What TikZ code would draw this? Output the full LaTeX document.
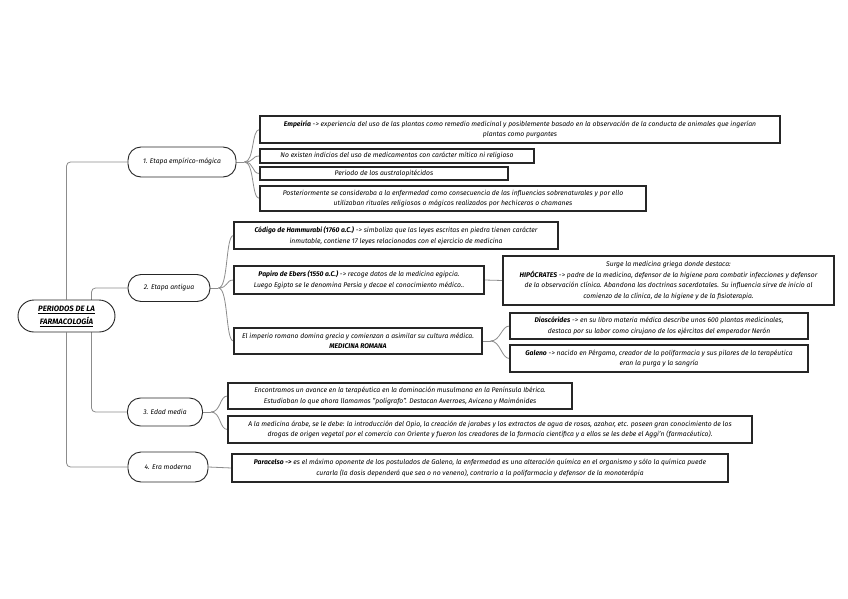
\documentclass[tikz,border=0pt]{standalone}
\usepackage{fontspec}
\setmainfont{Fira Sans}
\usetikzlibrary{backgrounds}
\tikzset{
  txt/.style={font=\fontsize{6.8}{10.6}\selectfont\itshape, align=center, inner sep=0pt},
  leaf/.style={txt, draw=black!85, line width=1.1pt, fill=white, rectangle},
  branch/.style={txt, draw=black!85, line width=0.9pt, fill=white, rounded corners=13pt},
  rootbox/.style={font=\fontsize{7.8}{13}\selectfont\bfseries\itshape, align=center, inner sep=0pt, draw=black!85, line width=0.9pt, fill=white, rounded corners=16pt},
  conn/.style={draw=black!45, line width=0.8pt},
}
\newcommand{\bx}[1]{\textbf{#1}}
\newcommand{\ar}{-\kern0.2pt>}
\begin{document}
\begin{tikzpicture}[x=1pt,y=-1pt]
\useasboundingbox (0,0) rectangle (848,599);
% root and branches
\node[rootbox, minimum width=97pt, minimum height=32pt] (root) at (66.5,316) {\underline{PERIODOS DE LA}\\\underline{FARMACOLOGÍA}};
\node[branch, minimum width=108pt, minimum height=30pt] (b1) at (182,162) {1. Etapa empírico-mágica};
\node[branch, minimum width=82pt, minimum height=27pt] (b2) at (169,288) {2. Etapa antigua};
\node[branch, minimum width=75pt, minimum height=28pt] (b3) at (165,412) {3. Edad media};
\node[branch, minimum width=80pt, minimum height=30pt] (b4) at (168,467) {4. Era moderna};
% leaves
\node[leaf, minimum width=520pt, minimum height=27pt] (e1) at (520,129.5) {\bx{Empeiría} \ar{} experiencia del uso de las plantas como remedio medicinal y posiblemente basado en la observación de la conducta de animales que ingerían\\plantas como purgantes};
\node[leaf, minimum width=274pt, minimum height=14pt] (e2) at (397,156) {No existen indicios del uso de medicamentos con carácter mítico ni religioso};
\node[leaf, minimum width=248pt, minimum height=13pt] (e3) at (384,173.5) {Periodo de los australopitécidos};
\node[leaf, minimum width=386pt, minimum height=25pt] (e4) at (453,198.5) {Posteriormente se consideraba a la enfermedad como consecuencia de las influencias sobrenaturales y por ello\\utilizaban rituales religiosos o mágicos realizados por hechiceros o chamanes};
\node[leaf, minimum width=324pt, minimum height=27pt] (a1) at (396,235.5) {\bx{Código de Hammurabi (1760 a.C.)} \ar{} simboliza que las leyes escritas en piedra tienen carácter\\inmutable, contiene 17 leyes relacionadas con el ejercicio de medicina};
\node[leaf, minimum width=250pt, minimum height=28pt] (a2) at (359,280) {\bx{Papiro de Ebers (1550 a.C.)} \ar{} recoge datos de la medicina egipcia.\\Luego Egipto se le denomina Persia y decae el conocimiento médico..};
\node[leaf, minimum width=331pt, minimum height=49pt] (a3) at (668.5,280.5) {Surge la medicina griega donde destaca:\\\bx{HIPÓCRATES} \ar{} padre de la medicina, defensor de la higiene para combatir infecciones y defensor\\de la observación clínica. Abandona las doctrinas sacerdotales. Su influencia sirve de inicio al\\comienzo de la clínica, de la higiene y de la fisioterapia.};
\node[leaf, minimum width=248pt, minimum height=26pt] (a4) at (358,341) {El imperio romano domina grecia y comienzan a asimilar su cultura médica.\\\bx{MEDICINA ROMANA}};
\node[leaf, minimum width=298pt, minimum height=26pt] (a5) at (659,326) {\bx{Dioscórides} \ar{} en su libro materia médica describe unos 600 plantas medicinales,\\destaca por su labor como cirujano de los ejércitos del emperador Nerón};
\node[leaf, minimum width=298pt, minimum height=27pt] (a6) at (659,358.5) {\bx{Galeno} \ar{} nacido en Pérgamo, creador de la polifarmacia y sus pilares de la terapéutica\\eran la purga y la sangría};
\node[leaf, minimum width=344pt, minimum height=26pt] (m1) at (400,396) {Encontramos un avance en la terapéutica en la dominación musulmana en la Península Ibérica.\\Estudiaban lo que ahora llamamos "polígrafo". Destacan Averroes, Avicena y Maimónides};
\node[leaf, minimum width=524pt, minimum height=27pt] (m2) at (490,429.5) {A la medicina árabe, se le debe: la introducción del Opio, la creación de jarabes y los extractos de agua de rosas, azahar, etc. poseen gran conocimiento de los\\drogas de origen vegetal por el comercio con Oriente y fueron los creadores de la farmacia científica y a ellos se les debe el Aggi'n (farmacéutico).};
\node[leaf, minimum width=496pt, minimum height=28pt] (p1) at (480,468) {\bx{Paracelso \ar} es el máximo oponente de los postulados de Galeno, la enfermedad es una alteración química en el organismo y sólo la química puede\\curarla (la dosis dependerá que sea o no veneno), contrario a la polifarmacia y defensor de la monoterápia};
% connectors
\begin{scope}[on background layer]
\fill[white] (0,0) rectangle (848,599);
\draw[conn, rounded corners=4pt] (root.north) |- (b1.west);
\draw[conn, rounded corners=4pt] (root.south) |- (b4.west);
\coordinate (rj) at ([xshift=25pt]root.center);
\draw[conn, rounded corners=4pt] (rj) |- (b2.west);
\draw[conn, rounded corners=4pt] (rj) |- (b3.west);
\coordinate (j1) at ([xshift=8pt]b1.east);
\draw[conn] (b1.east) -- (j1);
\foreach \t in {e1,e2,e3,e4}{\draw[conn] (j1) .. controls +(10,0) and +(-8,0) .. (\t.west);}
\coordinate (j2) at ([xshift=8pt]b2.east);
\draw[conn] (b2.east) -- (j2);
\foreach \t in {a1,a2,a4}{\draw[conn] (j2) .. controls +(10,0) and +(-8,0) .. (\t.west);}
\draw[conn] (a2.east) -- (a3.west);
\coordinate (j4) at ([xshift=8pt]a4.east);
\draw[conn] (a4.east) -- (j4);
\foreach \t in {a5,a6}{\draw[conn] (j4) .. controls +(10,0) and +(-8,0) .. (\t.west);}
\coordinate (j3) at ([xshift=8pt]b3.east);
\draw[conn] (b3.east) -- (j3);
\foreach \t in {m1,m2}{\draw[conn] (j3) .. controls +(10,0) and +(-8,0) .. (\t.west);}
\draw[conn] (b4.east) -- (p1.west);
\end{scope}
\end{tikzpicture}
\end{document}
